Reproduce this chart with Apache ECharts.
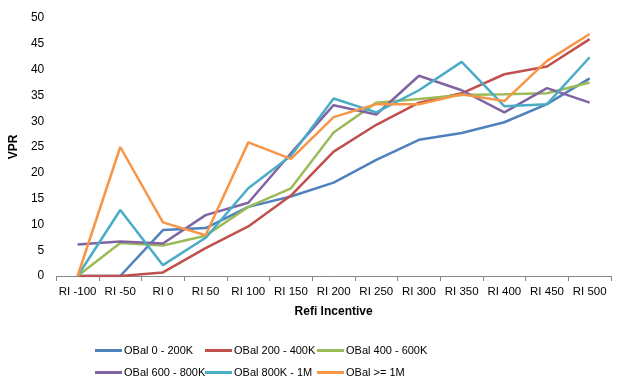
<!DOCTYPE html>
<html><head><meta charset="utf-8">
<script src="https://cdn.jsdelivr.net/npm/echarts@6/dist/echarts.min.js"></script>
<style>html,body{margin:0;padding:0;background:#fff}#c{width:622px;height:389px}</style>
</head><body><div id="c"></div>
<script>
var categories = ["RI -100","RI -50","RI 0","RI 50","RI 100","RI 150","RI 200","RI 250","RI 300","RI 350","RI 400","RI 450","RI 500"];
var seriesNames = ["OBal 0 - 200K","OBal 200 - 400K","OBal 400 - 600K","OBal 600 - 800K","OBal 800K - 1M","OBal >= 1M"];
var obal0_200 = [0, 0, 8.9, 9.3, 13.4, 15.4, 18.1, 22.5, 26.4, 27.7, 29.8, 33.3, 38.3];
var obal200_400 = [0, 0, 0.7, 5.4, 9.6, 15.6, 24.1, 29.3, 33.6, 35.4, 39.1, 40.6, 45.9];
var obal400_600 = [0, 6.4, 5.9, 7.8, 13.4, 17.0, 27.8, 33.6, 34.3, 35.1, 35.2, 35.4, 37.5];
var obal600_800 = [6.1, 6.7, 6.3, 11.8, 14.2, 23.8, 33.1, 31.3, 38.8, 36.0, 31.7, 36.4, 33.6];
var obal800_1M = [0, 12.8, 2.1, 7.4, 17.0, 23.3, 34.4, 31.7, 36.0, 41.5, 32.9, 33.3, 42.4];
var obal1M = [0, 25.0, 10.4, 7.9, 25.9, 22.7, 30.8, 33.3, 33.3, 35.2, 33.9, 41.7, 46.9];
var yTicks = {min: 0, max: 50, interval: 5};

var colors = ["#4F81BD","#C0504D","#9BBB59","#8064A2","#4BACC6","#F79646"];
var dataSets = [obal0_200, obal200_400, obal400_600, obal600_800, obal800_1M, obal1M];
var font = "Liberation Sans, Arial, sans-serif";
var legendPos = [[95,345],[205,345],[317,345],[95,367],[205,367],[317,367]];

var chart = echarts.init(document.getElementById('c'), null, {renderer:'canvas'});
var option = {
  animation: false,
  color: colors,
  grid: {left: 49, right: 11, top: 18, bottom: 113, containLabel: false},
  legend: seriesNames.map(function(n, i){
    return {data:[n], left: legendPos[i][0], top: legendPos[i][1], icon: 'rect',
      itemWidth: 27, itemHeight: 3, itemGap: 0,
      textStyle: {fontFamily: font, fontSize: 11, color: '#000', padding:[0,0,0,-3]}, padding: 0};
  }),
  xAxis: {
    type: 'category', data: categories, boundaryGap: true,
    name: 'Refi Incentive', nameLocation: 'middle', nameGap: 30,
    nameTextStyle: {fontFamily: font, fontSize: 12, fontWeight: 'bold', color: '#000'},
    axisLine: {lineStyle: {color: '#868686', width: 1}},
    axisTick: {show: true, length: 5, lineStyle: {color: '#868686'}},
    axisLabel: {interval: 0, fontFamily: font, fontSize: 11.5, color: '#000', margin: 10},
    splitLine: {show: false}
  },
  yAxis: {
    type: 'value', min: yTicks.min, max: yTicks.max, interval: yTicks.interval,
    name: 'VPR', nameLocation: 'middle', nameGap: 32, nameRotate: 90,
    nameTextStyle: {fontFamily: font, fontSize: 12, fontWeight: 'bold', color: '#000'},
    axisLine: {show: false}, axisTick: {show: false},
    axisLabel: {fontFamily: font, fontSize: 12, color: '#000', margin: 12},
    splitLine: {show: false}
  },
  series: seriesNames.map(function(n, i){
    return {name: n, type: 'line', data: dataSets[i], symbol: 'none',
      lineStyle: {width: 2.5, color: colors[i]}, itemStyle: {color: colors[i]}};
  })
};
chart.setOption(option);
</script></body></html>
